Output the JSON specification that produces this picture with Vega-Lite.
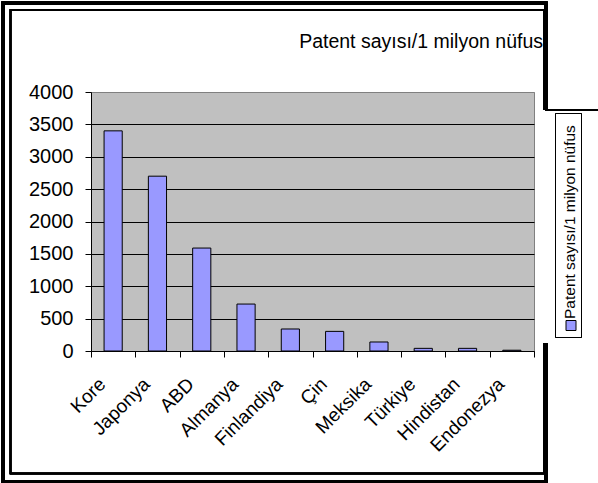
{
  "$schema": "https://vega.github.io/schema/vega-lite/v6.json",
  "autosize": {"type": "none"},
  "width": 443,
  "height": 259,
  "padding": {"left": 91, "top": 92, "right": 64, "bottom": 132},
  "background": "white",
  "config": {
    "font": "Liberation Sans",
    "view": {"fill": "#C0C0C0", "stroke": "#808080", "strokeWidth": 1}
  },
  "title": {
    "text": "Patent sayısı/1 milyon nüfus",
    "anchor": "end",
    "frame": "group",
    "font": "Liberation Sans",
    "fontSize": 19.5,
    "fontWeight": "normal",
    "color": "black",
    "baseline": "alphabetic",
    "offset": -66,
    "dx": 9
  },
  "data": {
    "values": [
      {"ulke": "Kore", "deger": 3400},
      {"ulke": "Japonya", "deger": 2700},
      {"ulke": "ABD", "deger": 1590},
      {"ulke": "Almanya", "deger": 725},
      {"ulke": "Finlandiya", "deger": 340},
      {"ulke": "Çin", "deger": 303},
      {"ulke": "Meksika", "deger": 139},
      {"ulke": "Türkiye", "deger": 41},
      {"ulke": "Hindistan", "deger": 41},
      {"ulke": "Endonezya", "deger": 12}
    ]
  },
  "layer": [
    {
      "mark": {"type": "rect", "fill": null, "stroke": "black", "strokeWidth": 3},
      "encoding": {
        "x": {"value": -88},
        "x2": {"value": 455},
        "y": {"value": -89},
        "y2": {"value": 389.5}
      }
    },
    {
      "mark": {"type": "rect", "fill": null, "stroke": "black", "strokeWidth": 1.5},
      "encoding": {
        "x": {"value": -80.5},
        "x2": {"value": 453},
        "y": {"value": -82},
        "y2": {"value": 381.5}
      }
    },
    {
      "mark": {"type": "rect", "fill": "white", "stroke": null},
      "encoding": {
        "x": {"value": 445},
        "x2": {"value": 512},
        "y": {"value": 18.5},
        "y2": {"value": 251}
      }
    },
    {
      "mark": {"type": "rule", "stroke": "black", "strokeWidth": 1.5},
      "encoding": {
        "x": {"value": 454},
        "x2": {"value": 512},
        "y": {"value": 18}
      }
    },
    {
      "mark": {"type": "rect", "fill": "white", "stroke": "black", "strokeWidth": 1},
      "encoding": {
        "x": {"value": 464.5},
        "x2": {"value": 490.5},
        "y": {"value": 21.5},
        "y2": {"value": 245.5}
      }
    },
    {
      "mark": {"type": "bar", "stroke": "black", "strokeWidth": 1, "width": {"band": 0.41}},
      "encoding": {
        "x": {
          "field": "ulke",
          "type": "nominal",
          "sort": null,
          "scale": {"paddingInner": 0, "paddingOuter": 0},
          "axis": {
            "title": null,
            "tickBand": "extent",
            "domainColor": "black",
            "tickColor": "black",
            "tickSize": 6,
            "labelAngle": -45,
            "labelAlign": "right",
            "labelBaseline": "alphabetic",
            "labelPadding": 28,
            "labelOffset": -7,
            "labelFont": "Liberation Sans",
            "labelFontSize": 19,
            "labelColor": "black",
            "labelLimit": 300
          }
        },
        "y": {
          "field": "deger",
          "type": "quantitative",
          "scale": {"domain": [0, 4000], "nice": false},
          "axis": {
            "title": null,
            "format": "d",
            "values": [0, 500, 1000, 1500, 2000, 2500, 3000, 3500, 4000],
            "grid": true,
            "gridColor": {"condition": {"test": "datum.value == 4000", "value": "#808080"}, "value": "black"},
            "gridOpacity": 1,
            "domainColor": "black",
            "tickColor": "black",
            "tickSize": 6,
            "labelPadding": 12,
            "labelFont": "Liberation Sans",
            "labelFontSize": 20,
            "labelColor": "black"
          }
        },
        "color": {
          "datum": "Patent sayısı/1 milyon nüfus",
          "type": "nominal",
          "scale": {"range": ["#9999FF"]},
          "legend": {
            "title": null,
            "orient": "none",
            "legendX": 464,
            "legendY": 228.5,
            "padding": 5,
            "symbolType": "square",
            "symbolSize": 100,
            "symbolStrokeColor": "black",
            "symbolStrokeWidth": 1,
            "symbolOpacity": 1,
            "labelFont": "Liberation Sans",
            "labelFontSize": 15.5,
            "labelColor": "black",
            "labelLimit": 300,
            "encoding": {
              "symbols": {"x": {"value": 11}, "y": {"value": 0}},
              "labels": {
                "x": {"value": 10},
                "y": {"value": -6.5},
                "angle": {"value": -90},
                "align": {"value": "left"},
                "baseline": {"value": "middle"}
              }
            }
          }
        }
      }
    }
  ]
}
